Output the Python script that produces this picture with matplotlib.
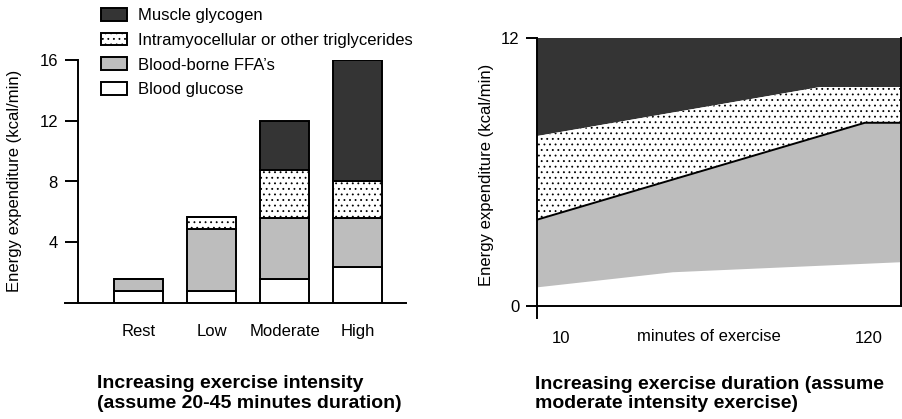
import matplotlib
matplotlib.use("Agg")
import matplotlib.pyplot as plt

plt.rcParams['font.family'] = ['Liberation Sans', 'DejaVu Sans']
plt.rcParams['font.size'] = 12
plt.rcParams['hatch.linewidth'] = 0.6

# left panel: exercise intensity
intensity = ['Rest', 'Low', 'Moderate', 'High']
glucose = [0.8, 0.8, 1.6, 2.4]
ffa = [0.8, 4.05, 4.0, 3.2]
imtg = [0.0, 0.8, 3.15, 2.4]
glycogen = [0.0, 0.0, 3.25, 8.0]
left_yticks = [4, 8, 12, 16]
legend_labels = ['Muscle glycogen', 'Intramyocellular or other triglycerides',
                 "Blood-borne FFA\u2019s", 'Blood glucose']

# right panel: exercise duration (x in minutes)
glucose_top_x = [1.4, 50, 131.3]
glucose_top_y = [0.82, 1.5, 1.95]
ffa_top_x = [1.4, 118.5, 131.3]
ffa_top_y = [3.85, 8.2, 8.2]
imtg_top_x = [1.4, 102.5, 131.3]
imtg_top_y = [7.6, 9.8, 9.8]
total = 12
duration_ticks = [10, 120]

dark = '#343434'
grey = '#bdbdbd'

fig = plt.figure(figsize=(9.02, 4.19), dpi=100)

# ---- left
ax = fig.add_axes([65/902, 116/419, 341/902, 243/419])
pos = list(range(len(intensity)))
w = 0.67
kw = dict(width=w, edgecolor='black', linewidth=1.4)
b1 = ax.bar(pos, glucose, color='white', **kw)
bot = glucose
b2 = ax.bar(pos, ffa, bottom=bot, color=grey, **kw)
bot = [a + b for a, b in zip(bot, ffa)]
b3 = ax.bar(pos, imtg, bottom=bot, color='white', hatch='...', **kw)
bot = [a + b for a, b in zip(bot, imtg)]
b4 = ax.bar(pos, glycogen, bottom=bot, color=dark, **kw)

ax.set_xlim(-1.007, 3.664)
ax.set_ylim(0, 16)
ax.spines['top'].set_visible(False)
ax.spines['right'].set_visible(False)
ax.spines['left'].set_position(('data', -0.829))
ax.spines['left'].set_linewidth(1.4)
ax.spines['bottom'].set_linewidth(1.4)
ax.set_yticks(left_yticks)
ax.tick_params(axis='y', length=9.4, width=1.4, pad=5, labelsize=12)
ax.set_xticks(pos)
ax.set_xticklabels(intensity)
ax.tick_params(axis='x', length=0, pad=15, labelsize=12)

fig.legend([b4, b3, b2, b1], legend_labels, loc='upper left',
           bbox_to_anchor=(101/902, 1 - 8/419), frameon=False, fontsize=12,
           borderpad=0, borderaxespad=0, handlelength=1.55, handleheight=0.8,
           handletextpad=0.65, labelspacing=0.57)

fig.text(15/902, 1 - 181/419, 'Energy expenditure (kcal/min)', rotation=90,
         ha='center', va='center', fontsize=12)
fig.text(97/902, 1 - 393.5/419,
         'Increasing exercise intensity\n(assume 20-45 minutes duration)',
         ha='left', va='center', fontsize=14, fontweight='bold', linespacing=1.2)

# ---- right
ax2 = fig.add_axes([536.5/902, 101/419, 364.2/902, 280/419])
xl, xr = 1.4, 131.3
ax2.fill(imtg_top_x + [xr, xl], imtg_top_y + [total, total], color=dark, linewidth=0)
ax2.fill(imtg_top_x + ffa_top_x[::-1], imtg_top_y + ffa_top_y[::-1],
         facecolor='white', edgecolor='black', linewidth=0, hatch='...')
ax2.fill(ffa_top_x + glucose_top_x[::-1], ffa_top_y + glucose_top_y[::-1],
         color=grey, linewidth=0)
ax2.plot(ffa_top_x, ffa_top_y, color='black', linewidth=1.4)

ax2.set_xlim(xl, xr)
ax2.set_ylim(-0.55, total)
ax2.spines['top'].set_visible(False)
ax2.spines['bottom'].set_position(('data', 0))
ax2.spines['right'].set_bounds(0, total)
for s in ['left', 'bottom', 'right']:
    ax2.spines[s].set_linewidth(1.4)
ax2.set_yticks([0, total])
ax2.tick_params(axis='y', length=8, width=1.4, pad=4, labelsize=12)
ax2.set_xticks(duration_ticks)
ax2.tick_params(axis='x', length=0, pad=18, labelsize=12)

fig.text(708.5/902, 1 - 336.7/419, 'minutes of exercise', ha='center', va='center',
         fontsize=12)
fig.text(486/902, 1 - 175/419, 'Energy expenditure (kcal/min)', rotation=90,
         ha='center', va='center', fontsize=12)
fig.text(535/902, 1 - 394/419,
         'Increasing exercise duration (assume\nmoderate intensity exercise)',
         ha='left', va='center', fontsize=14, fontweight='bold', linespacing=1.2)

fig.savefig('out.png', dpi=100)
